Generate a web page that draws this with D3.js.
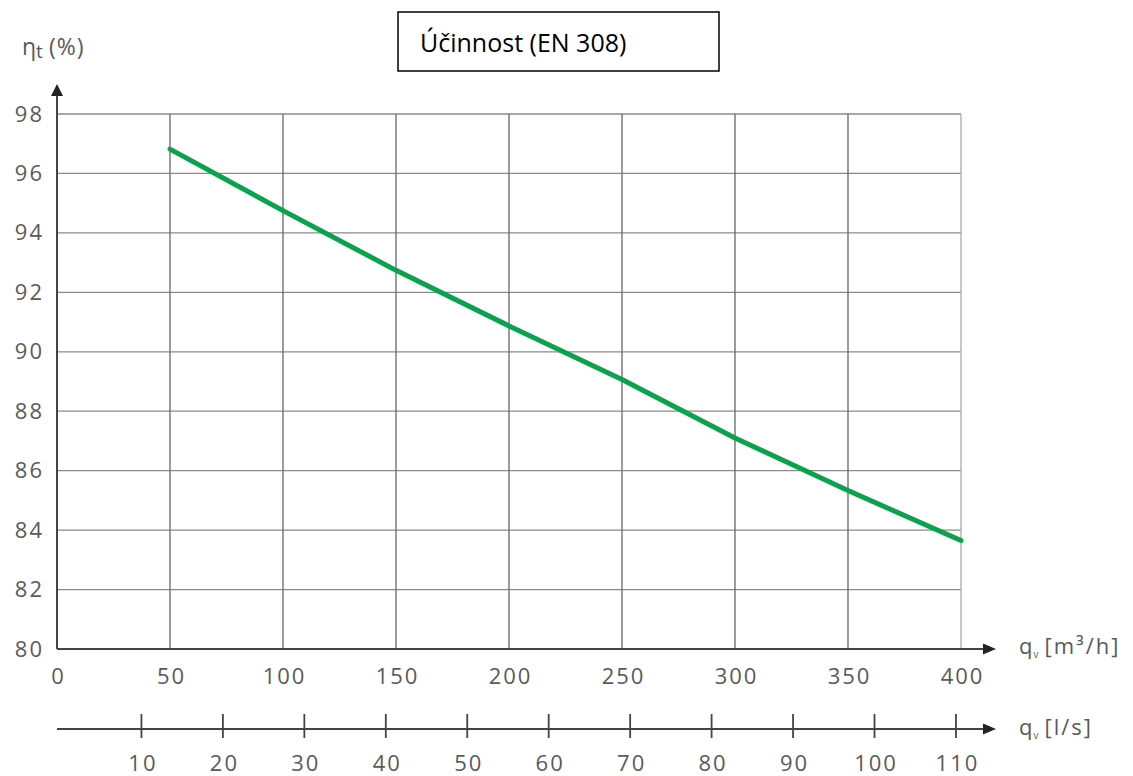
<!DOCTYPE html>
<html>
<head>
<meta charset="utf-8">
<script src="https://cdn.jsdelivr.net/npm/d3@7"></script>
<style>
  html, body { margin: 0; padding: 0; background: #fff; }
  svg { display: block; }
</style>
</head>
<body>
<svg id="chart" width="1133" height="776"></svg>
<script>
// ---- data ----
const title = "Účinnost (EN 308)";
const flowM3h = [50, 100, 150, 200, 250, 300, 350, 400];
const efficiency = [96.82, 94.75, 92.74, 90.87, 89.07, 87.10, 85.33, 83.65];
const xTicks = [0, 50, 100, 150, 200, 250, 300, 350, 400];
const yTicks = [80, 82, 84, 86, 88, 90, 92, 94, 96, 98];
const lsTicks = [10, 20, 30, 40, 50, 60, 70, 80, 90, 100, 110];

// ---- layout ----
const svg = d3.select("#chart");
const x = d3.scaleLinear().domain([0, 400]).range([57, 961]);
const y = d3.scaleLinear().domain([80, 98]).range([649, 114]);
const xLs = d3.scaleLinear().domain([0, 400 / 3.6]).range([60, 965]);
const axisColor = "#444";
const lsAxisY = 729;
const fontAx = "'Open Sans', sans-serif";
const labelColor = "#5a5a5a";

function styleLabels(g) {
  g.select(".domain").remove();
  g.selectAll("text")
    .style("font-family", fontAx)
    .style("font-size", "22px")
    .style("letter-spacing", "2px")
    .style("fill", labelColor);
}

// gridlines
svg.append("g").selectAll("line").data(yTicks.filter(d => d > 80)).join("line")
  .attr("x1", x(0)).attr("x2", x(400))
  .attr("y1", d => y(d)).attr("y2", d => y(d))
  .attr("stroke", "#8a8a8a").attr("stroke-width", 1.3);
svg.append("g").selectAll("line").data(xTicks.filter(d => d > 0)).join("line")
  .attr("x1", d => x(d)).attr("x2", d => x(d))
  .attr("y1", y(98)).attr("y2", y(80))
  .attr("stroke", d => d === 400 ? "#aaa" : "#666").attr("stroke-width", 1.3);

// y axis labels
svg.append("g").attr("transform", `translate(${x(0)},0)`)
  .call(d3.axisLeft(y).tickValues(yTicks).tickSize(0).tickPadding(13).tickFormat(d3.format("d")))
  .call(styleLabels);

// x axis labels
svg.append("g").attr("transform", `translate(1,${y(80)})`)
  .call(d3.axisBottom(x).tickValues(xTicks).tickSize(0).tickPadding(19).tickFormat(d3.format("d")))
  .call(styleLabels);

// l/s axis labels
svg.append("g").attr("transform", `translate(1,${lsAxisY})`)
  .call(d3.axisBottom(xLs).tickValues(lsTicks).tickSize(0).tickPadding(26).tickFormat(d3.format("d")))
  .call(styleLabels);
svg.append("g").selectAll("line").data(lsTicks).join("line")
  .attr("x1", d => xLs(d)).attr("x2", d => xLs(d))
  .attr("y1", lsAxisY - 15).attr("y2", lsAxisY + 9)
  .attr("stroke", axisColor).attr("stroke-width", 1.8);

// axis lines with arrows
function arrowH(yy) {
  svg.append("line").attr("x1", x(0)).attr("x2", 985).attr("y1", yy).attr("y2", yy)
    .attr("stroke", axisColor).attr("stroke-width", 2);
  svg.append("path").attr("d", `M983,${yy - 5.5}L996,${yy}L983,${yy + 5.5}Z`).attr("fill", "#222");
}
arrowH(y(80));
arrowH(lsAxisY);
svg.append("line").attr("x1", x(0)).attr("x2", x(0)).attr("y1", y(80)).attr("y2", 94)
  .attr("stroke", axisColor).attr("stroke-width", 2);
svg.append("path").attr("d", `M${x(0) - 6},96L${x(0)},84L${x(0) + 6},96Z`).attr("fill", "#222");

// data line
svg.append("path")
  .datum(flowM3h.map((d, i) => [d, efficiency[i]]))
  .attr("d", d3.line().x(d => x(d[0])).y(d => y(d[1])))
  .attr("fill", "none").attr("stroke", "#0aa24c").attr("stroke-width", 5)
  .attr("stroke-linecap", "round").attr("stroke-linejoin", "round");

// axis titles
const yt = svg.append("text").attr("x", 22).attr("y", 55)
  .style("font-family", fontAx).style("font-size", "23px").style("fill", labelColor);
yt.append("tspan").text("η");
yt.append("tspan").style("font-size", "19px").attr("dy", 3).text("t");
yt.append("tspan").attr("dy", -3).attr("dx", 6).style("letter-spacing", "1px").text("(%)");

function unitLabel(yy, unit) {
  const t = svg.append("text").attr("x", 1019).attr("y", yy + 7)
    .style("font-family", fontAx).style("font-size", "22px").style("fill", labelColor);
  t.append("tspan").text("q");
  t.append("tspan").style("font-size", "10px").attr("dy", 4).attr("dx", 1).text("v");
  t.append("tspan").attr("dy", -4).attr("dx", 6).style("letter-spacing", "2px").text(unit);
}
unitLabel(y(80) - 2, "[m³/h]");
unitLabel(lsAxisY - 1, "[l/s]");

// title box
svg.append("rect").attr("x", 398).attr("y", 12).attr("width", 321).attr("height", 59)
  .attr("fill", "#fff").attr("stroke", "#000").attr("stroke-width", 1.5);
svg.append("text").attr("x", 420).attr("y", 52)
  .style("font-family", "'Open Sans', sans-serif").style("font-size", "25px").style("fill", "#000")
  .text(title);
</script>
</body>
</html>
